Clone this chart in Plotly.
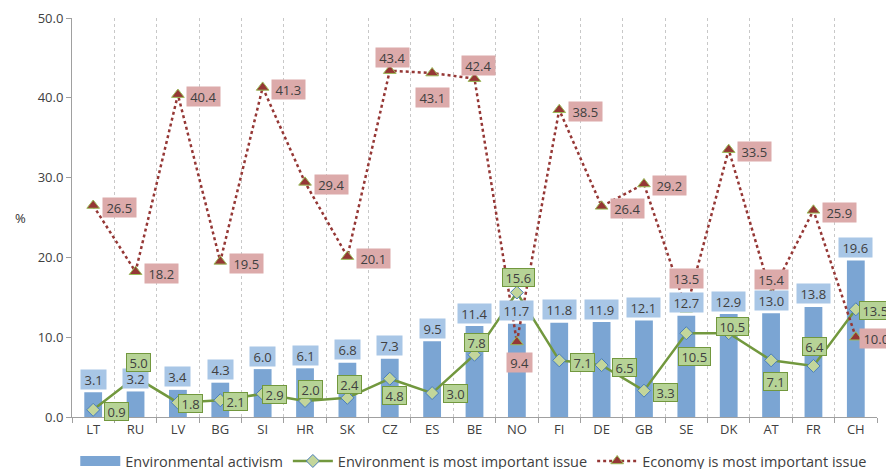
import plotly.graph_objects as go

categories = ["LT", "RU", "LV", "BG", "SI", "HR", "SK", "CZ", "ES", "BE",
              "NO", "FI", "DE", "GB", "SE", "DK", "AT", "FR", "CH"]
activism = [3.1, 3.2, 3.4, 4.3, 6.0, 6.1, 6.8, 7.3, 9.5, 11.4,
            11.7, 11.8, 11.9, 12.1, 12.7, 12.9, 13.0, 13.8, 19.6]
environment = [0.9, 5.0, 1.8, 2.1, 2.9, 2.0, 2.4, 4.8, 3.0, 7.8,
               15.6, 7.1, 6.5, 3.3, 10.5, 10.5, 7.1, 6.4, 13.5]
economy = [26.5, 18.2, 40.4, 19.5, 41.3, 29.4, 20.1, 43.4, 43.1, 42.4,
           9.4, 38.5, 26.4, 29.2, 13.5, 33.5, 15.4, 25.9, 10.0]
y_ticks = [0, 10, 20, 30, 40, 50]

# label offsets in pixels (style only)
env_shift = [(23, -2), (3, 15), (13, -1), (15, -1), (12, -1), (5, 12), (2, 13),
             (5, -17), (23, 0), (2, 12), (2, 15), (23, -2), (23, -2), (22, -2),
             (8, -23), (4, 7), (4, -21), (1, 19), (20, -1)]
eco_shift = [(26, -2), (26, -2), (26, -2), (26, -2), (26, -2), (26, -2), (26, -2),
             (3, 13), (0, -24), (4, 13), (3, -21), (26, -2), (26, -2), (26, -2),
             (0, 31), (26, -2), (0, 15), (26, -2), (21, -1)]

FONT = "Open Sans"
TXT = "#404040"
BAR = "#7ba5d3"
BAR_LBL = "#a8c6e6"
GREEN = "#72983e"
GREEN_LBL = "#b6d396"
RED = "#953735"
RED_LBL = "#dcaaaa"

fig = go.Figure()
fig.add_trace(go.Bar(
    x=categories, y=activism, name="Environmental activism",
    marker=dict(color=BAR, line=dict(width=0)), width=0.42, showlegend=False,
))
# legend swatch for the bars (wide rectangle like the original)
fig.add_trace(go.Scatter(
    x=[None], y=[None], name="Environmental activism", mode="lines",
    line=dict(color=BAR, width=10),
))
fig.add_trace(go.Scatter(
    x=categories, y=environment, name="Environment is most important issue",
    mode="lines+markers",
    line=dict(color=GREEN, width=2.5),
    marker=dict(symbol="diamond", size=10, color="#c3d69b",
                line=dict(color="#4a7ebb", width=1)),
))
fig.add_trace(go.Scatter(
    x=categories, y=economy, name="Economy is most important issue",
    mode="lines+markers",
    line=dict(color=RED, width=2.5, dash="dot"),
    marker=dict(symbol="triangle-up", size=11, color=RED,
                line=dict(color="#9bbb59", width=1)),
))


def box_w(s):
    return len(s) * 7.4 - 1


annotations = []
for c, v in zip(categories, activism):
    t = f"{v:.1f}"
    annotations.append(dict(x=c, y=v, text=t, showarrow=False, yanchor="middle",
                            yshift=13, bgcolor=BAR_LBL, borderpad=2,
                            width=box_w(t), height=15,
                            font=dict(family=FONT, size=13, color=TXT)))
for c, v, (dx, dy) in zip(categories, environment, env_shift):
    t = f"{v:.1f}"
    annotations.append(dict(x=c, y=v, text=t, showarrow=False, xshift=dx, yshift=dy,
                            bgcolor=GREEN_LBL, bordercolor=GREEN, borderwidth=1,
                            borderpad=1, width=box_w(t), height=15,
                            font=dict(family=FONT, size=13, color=TXT)))
for c, v, (dx, dy) in zip(categories, economy, eco_shift):
    t = f"{v:.1f}"
    annotations.append(dict(x=c, y=v, text=t, showarrow=False, xshift=dx, yshift=dy,
                            bgcolor=RED_LBL, borderpad=2, width=box_w(t), height=15,
                            font=dict(family=FONT, size=13, color=TXT)))
annotations.append(dict(xref="paper", yref="paper", x=-0.073, y=0.50, text="%",
                        showarrow=False, font=dict(family=FONT, size=13, color="#303030")))

# the page body adds an 8px offset; margins compensate for it
fig.update_layout(
    width=894, height=469,
    margin=dict(l=64, r=25, t=10, b=60, autoexpand=False),
    paper_bgcolor="white", plot_bgcolor="white",
    font=dict(family=FONT, size=13, color=TXT),
    showlegend=True,
    legend=dict(orientation="h", x=0.521, xref="container", xanchor="center",
                y=0.034, yref="container", yanchor="middle",
                font=dict(family=FONT, size=14.5, color=TXT), itemwidth=40,
                traceorder="normal", tracegroupgap=0),
    annotations=annotations,
)
fig.update_xaxes(
    type="category", range=[-0.5, 18.5], automargin=False,
    tickson="boundaries", ticks="outside", ticklen=5, tickcolor="#a0a0a0",
    showgrid=True, gridcolor="#c8c8c8", griddash="dot", gridwidth=1,
    showline=True, linecolor="#a0a0a0", linewidth=1,
    tickfont=dict(family=FONT, size=13, color=TXT),
)
fig.update_yaxes(
    range=[0, 50], tickvals=y_ticks, tickformat=".1f", automargin=False,
    ticks="outside", ticklen=5, tickcolor="#a0a0a0",
    showgrid=False, zeroline=False,
    showline=True, linecolor="#a0a0a0", linewidth=1,
    tickfont=dict(family=FONT, size=13, color=TXT),
)

fig.write_html("out.html")
